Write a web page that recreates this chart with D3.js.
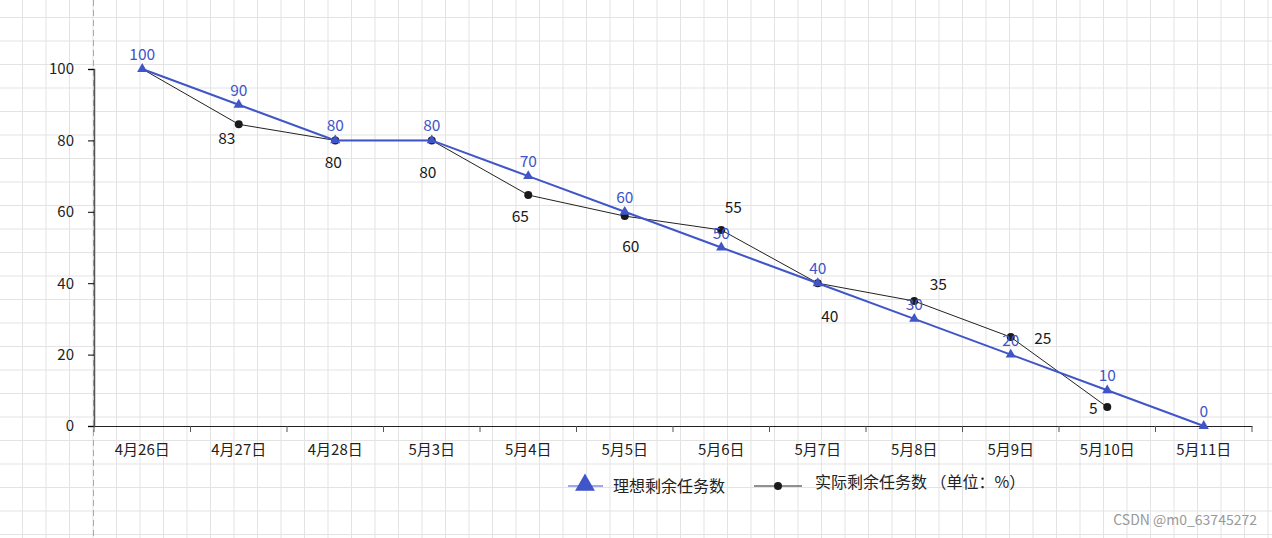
<!DOCTYPE html><html><head><meta charset="utf-8"><script src="https://cdn.jsdelivr.net/npm/d3@7"></script>
<style>body{margin:0;background:#fff}text{font-family:"Microsoft YaHei","Noto Sans CJK SC",sans-serif}</style></head><body>
<svg id="c" width="1272" height="538"></svg>
<script>
const categories=["4月26日","4月27日","4月28日","5月3日","5月4日","5月5日","5月6日","5月7日","5月8日","5月9日","5月10日","5月11日"];
const ideal=[100,90,80,80,70,60,50,40,30,20,10,0];
const actual=[100,84.5,80,80,64.7,58.8,54.9,40,35,24.9,5.3];
const actualLabels=["","83","80","80","65","60","55","40","35","25","5"];
const actualLabelOffsets=[[0,0],[-12,20],[-2,28],[-4,38],[-8,27],[6,36],[12,-17],[12,39],[24,-11],[32,7],[-14,7]];
const yTicks=[0,20,40,60,80,100];
const svg=d3.select("#c");
const g0=svg.append("g");
for(let x=22.5;x<1272;x+=23.5)g0.append("line").attr("x1",x).attr("x2",x).attr("y1",0).attr("y2",538).attr("stroke","#e3e3e3");
for(let y=17.5;y<538;y+=23.5)g0.append("line").attr("y1",y).attr("y2",y).attr("x1",0).attr("x2",1272).attr("stroke","#e3e3e3");
g0.append("line").attr("x1",93.5).attr("x2",93.5).attr("y1",0).attr("y2",538).attr("stroke","#aaa").attr("stroke-dasharray","6,4");
const x=d3.scaleBand().domain(categories).range([94,1252]);
const y=d3.scaleLinear().domain([0,100]).range([426,69]);
const cx=d=>x(d)+x.bandwidth()/2;
const ya=svg.append("g").attr("transform","translate(94,0)").call(d3.axisLeft(y).tickValues(yTicks).tickSize(6).tickPadding(14));
ya.select(".domain").attr("stroke","#555").attr("stroke-width",1.5);
ya.selectAll("text").attr("font-size",15).attr("fill","#222");
const xa=svg.append("g").attr("transform","translate(0,426)").call(d3.axisBottom(x).tickSize(0).tickPadding(18));
xa.select(".domain").attr("stroke","#222");
xa.selectAll("text").attr("font-size",15).attr("fill","#222");
categories.concat(["end"]).forEach((c,i)=>{const xx=94+i*x.bandwidth();svg.append("line").attr("x1",xx).attr("x2",xx).attr("y1",426).attr("y2",432).attr("stroke","#555");});
const line=d3.line().x((d,i)=>cx(categories[i])).y(d=>y(d));
svg.append("path").attr("d",line(actual)).attr("fill","none").attr("stroke","#222").attr("stroke-width",1);
actual.forEach((v,i)=>{if(i>0)svg.append("circle").attr("cx",cx(categories[i])).attr("cy",y(v)).attr("r",4).attr("fill","#1a1a1a");
if(actualLabels[i])svg.append("text").attr("x",cx(categories[i])+actualLabelOffsets[i][0]).attr("y",y(v)+actualLabelOffsets[i][1]).attr("text-anchor","middle").attr("font-size",15.5).attr("fill","#1a1a1a").text(actualLabels[i]);});
svg.append("path").attr("d",line(ideal)).attr("fill","none").attr("stroke","#4055c8").attr("stroke-width",2);
const tri=d3.symbol().type(d3.symbolTriangle).size(45);
ideal.forEach((v,i)=>{svg.append("path").attr("d",tri()).attr("transform",`translate(${cx(categories[i])},${y(v)})`).attr("fill","#4055c8");
svg.append("text").attr("x",cx(categories[i])).attr("y",y(v)-9).attr("text-anchor","middle").attr("font-size",15.5).attr("fill","#4055c8").text(v);});
const lg=svg.append("g");
lg.append("line").attr("x1",568).attr("x2",603).attr("y1",486).attr("y2",486).attr("stroke","#4055c8");
lg.append("path").attr("d",d3.symbol().type(d3.symbolTriangle).size(170)()).attr("transform","translate(585,485)").attr("fill","#4055c8");
lg.append("text").attr("x",613).attr("y",492).attr("font-size",16).attr("fill","#222").text("理想剩余任务数");
lg.append("line").attr("x1",754).attr("x2",802).attr("y1",486).attr("y2",486).attr("stroke","#222");
lg.append("circle").attr("cx",778).attr("cy",486).attr("r",4).attr("fill","#1a1a1a");
lg.append("text").attr("x",815).attr("y",488).attr("font-size",16).attr("fill","#222").text("实际剩余任务数 （单位：%）");
svg.append("text").attr("x",1257).attr("y",525).attr("text-anchor","end").attr("font-size",14).attr("fill","#999").text("CSDN @m0_63745272");
</script></body></html>
